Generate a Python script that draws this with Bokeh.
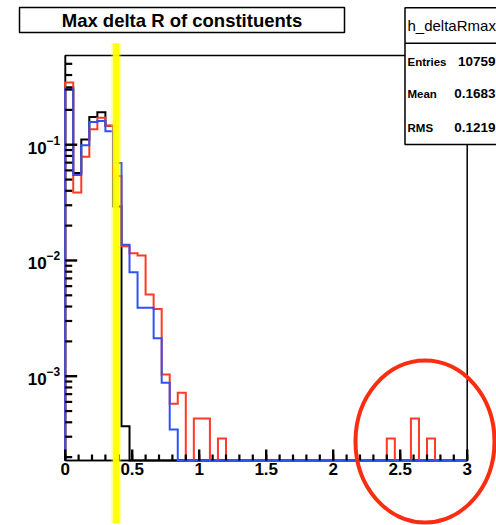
import numpy as np
from bokeh.plotting import figure
from bokeh.models import Range1d, LinearScale, FixedTicker, NumeralTickFormatter
from bokeh.core.properties import value
from bokeh.embed import file_html
from bokeh.resources import INLINE

# ---- histogram content (50 bins of 0.06 over [0, 3]) -------------------
X_LO, X_HI, N_BINS = 0.0, 3.0, 50

black_content = [0.313, 0.0571, 0.111, 0.174, 0.191, 0.146, 0.0293, 3.7e-4] + [0.0] * 42

red_content = ([0.344, 0.0387, 0.0789, 0.136, 0.171, 0.146, 0.0536, 0.0133,
                0.01156, 0.01104, 0.00508, 0.00381, 1.034e-3, 5.77e-4, 7.19e-4,
                0.0, 4.31e-4, 4.31e-4, 0.0, 2.89e-4]
               + [0.0] * 20
               + [2.89e-4, 0.0, 0.0, 4.31e-4, 0.0, 2.89e-4, 0.0, 0.0, 0.0, 0.0])

blue_content = ([0.301, 0.0548, 0.0992, 0.157, 0.160, 0.131, 0.0696, 0.01367,
                 0.00792, 0.0039, 0.0039, 0.00213, 8.77e-4, 3.46e-4]
                + [0.0] * 36)

x_major = [0, 0.5, 1, 1.5, 2, 2.5, 3]
x_minor = [round(0.1 * i, 1) for i in range(31)]
y_major = [1e-3, 1e-2, 1e-1]
Y_AXIS_MIN, Y_AXIS_MAX = 1.87e-4, 0.59
y_minor = [m * 10.0 ** d for d in range(-4, 0) for m in range(2, 10)
           if Y_AXIS_MIN <= m * 10.0 ** d <= Y_AXIS_MAX]

title_text = "Max delta R of constituents"
hist_name = "h_deltaRmax"
stats_labels = ["Entries", "Mean", "RMS"]
stats_values = ["10759", "0.1683", "0.1219"]

CUT_X = 0.38          # vertical marker drawn over the distribution
CIRCLE_X = 2.685      # ring around the far tail

# ---- page geometry (pixels) ---------------------------------------------
W, H = 496, 525
FRAME_L, FRAME_R, FRAME_T, FRAME_B = 64.7, 466.7, 55.0, 460.0

sx = (X_HI - X_LO) / (FRAME_R - FRAME_L)
X0 = X_LO - FRAME_L * sx
X1 = X_HI + (W - FRAME_R) * sx
lmin, lmax = np.log10(Y_AXIS_MIN), np.log10(Y_AXIS_MAX)
ly = (lmax - lmin) / (FRAME_B - FRAME_T)
Y1 = 10 ** (lmax + FRAME_T * ly)
Y0 = 10 ** (lmin - (H - FRAME_B) * ly)

p = figure(width=W, height=H, x_range=Range1d(X0, X1), y_range=Range1d(Y0, Y1),
           y_axis_type="log", output_backend="svg", toolbar_location=None,
           min_border=0)
p.extra_x_ranges = {"px": Range1d(0, W)}
p.extra_y_ranges = {"px": Range1d(H, 0)}
p.extra_x_scales = {"px": LinearScale()}
p.extra_y_scales = {"px": LinearScale()}
p.xgrid.visible = False
p.ygrid.visible = False
p.outline_line_color = None

FONT = value("Liberation Sans")

# ---- labelled axes at the frame edges -----------------------------------
xa = p.xaxis[0]
xa.fixed_location = Y_AXIS_MIN
xa.bounds = (X_LO, X_HI)
xa.ticker = FixedTicker(ticks=x_major, minor_ticks=x_minor)
xa.formatter = NumeralTickFormatter(format="0.[0]")
ya = p.yaxis[0]
ya.fixed_location = X_LO
ya.bounds = (Y_AXIS_MIN, Y_AXIS_MAX)
ya.ticker = FixedTicker(ticks=y_major, minor_ticks=y_minor)

for ax, standoff in ((xa, 2), (ya, 5)):
    ax.axis_line_width = 1.5
    ax.axis_line_color = "black"
    ax.major_tick_in = 0
    ax.major_tick_out = 0
    ax.minor_tick_in = 0
    ax.minor_tick_out = 0
    ax.major_tick_line_color = None
    ax.minor_tick_line_color = None
    ax.major_label_standoff = standoff
    ax.major_label_text_font = "Liberation Sans"
    ax.major_label_text_font_style = "bold"
    ax.major_label_text_font_size = "17px"
    ax.major_label_text_color = "black"

# frame outline
p.quad(left=[X_LO], right=[X_HI], bottom=[Y_AXIS_MIN], top=[Y_AXIS_MAX],
       fill_color=None, line_color="black", line_width=1.5)

# ---- histogram outlines --------------------------------------------------
edges = np.linspace(X_LO, X_HI, N_BINS + 1)


def outline(content):
    v = np.maximum(np.asarray(content, dtype=float), Y_AXIS_MIN)
    xs = np.repeat(edges, 2)
    ys = np.concatenate([[Y_AXIS_MIN], np.repeat(v, 2), [Y_AXIS_MIN]])
    return xs, ys


for content, color in ((black_content, "black"),
                       (red_content, "#ff3a26"),
                       (blue_content, "#2f52f7")):
    xs, ys = outline(content)
    r = p.line(xs, ys, line_color=color, line_width=2, line_join="miter")
    r.level = "annotation"

# ---- title and statistics boxes -----------------------------------------
r = p.quad(left=[19], right=[344], top=[7], bottom=[32], x_range_name="px",
           y_range_name="px", fill_color="white", line_color="black", line_width=1.5)
r.level = "annotation"
r = p.text(x=[181.5], y=[20], text=[title_text], x_range_name="px", y_range_name="px",
           text_font=FONT, text_font_style="bold", text_font_size="18.5px",
           text_align="center", text_baseline="middle", text_color="black")
r.level = "annotation"

r = p.quad(left=[404.5], right=[530], top=[7.3], bottom=[144], x_range_name="px",
           y_range_name="px", fill_color="white", line_color="black", line_width=1.5)
r.level = "annotation"
r = p.segment(x0=[404.5], y0=[42.7], x1=[530], y1=[42.7], x_range_name="px",
              y_range_name="px", line_color="black", line_width=1.5)
r.level = "annotation"
r = p.text(x=[407], y=[25], text=[hist_name], x_range_name="px", y_range_name="px",
           text_font=FONT, text_font_size="15px", text_align="left",
           text_baseline="middle", text_color="black")
r.level = "annotation"
row_y = [61, 93, 127]
r = p.text(x=[407] * 3, y=row_y, text=stats_labels, x_range_name="px", y_range_name="px",
           text_font=FONT, text_font_style="bold", text_font_size="11.5px",
           text_align="left", text_baseline="middle", text_color="black")
r.level = "annotation"
r = p.text(x=[495] * 3, y=row_y, text=stats_values, x_range_name="px", y_range_name="px",
           text_font=FONT, text_font_style="bold", text_font_size="13.5px",
           text_align="right", text_baseline="middle", text_color="black")
r.level = "annotation"

# ---- inward tick marks along the bottom and left edges -------------------
for xt, length, lw in ((x_minor, 6, 2.2), (x_major, 11, 2.4)):
    r = p.segment(x0=xt, y0=[FRAME_B] * len(xt), x1=xt,
                  y1=[FRAME_B - length] * len(xt), y_range_name="px",
                  line_color="black", line_width=lw)
    r.level = "overlay"
for yt, length, lw in ((y_minor, 7, 2.2), (y_major, 12, 2.4)):
    r = p.segment(x0=[FRAME_L] * len(yt), y0=yt, x1=[FRAME_L + length] * len(yt),
                  y1=yt, x_range_name="px", line_color="black", line_width=lw)
    r.level = "overlay"

# ---- highlight marks -----------------------------------------------------
r = p.segment(x0=[CUT_X], y0=[42.7], x1=[CUT_X], y1=[523], y_range_name="px",
              line_color="#ffff00", line_width=10, line_alpha=0.3)
r.level = "overlay"
r = p.segment(x0=[CUT_X], y0=[42.7], x1=[CUT_X], y1=[523], y_range_name="px",
              line_color="#ffff00", line_width=6.5, line_alpha=0.93)
r.level = "overlay"
r = p.ellipse(x=[CIRCLE_X], y=[441], width=[139], height=[162],
              width_units="screen", height_units="screen", y_range_name="px",
              fill_color=None, line_color="#fa2d10", line_width=4)
r.level = "overlay"

open("out.html", "w").write(file_html(p, INLINE))
